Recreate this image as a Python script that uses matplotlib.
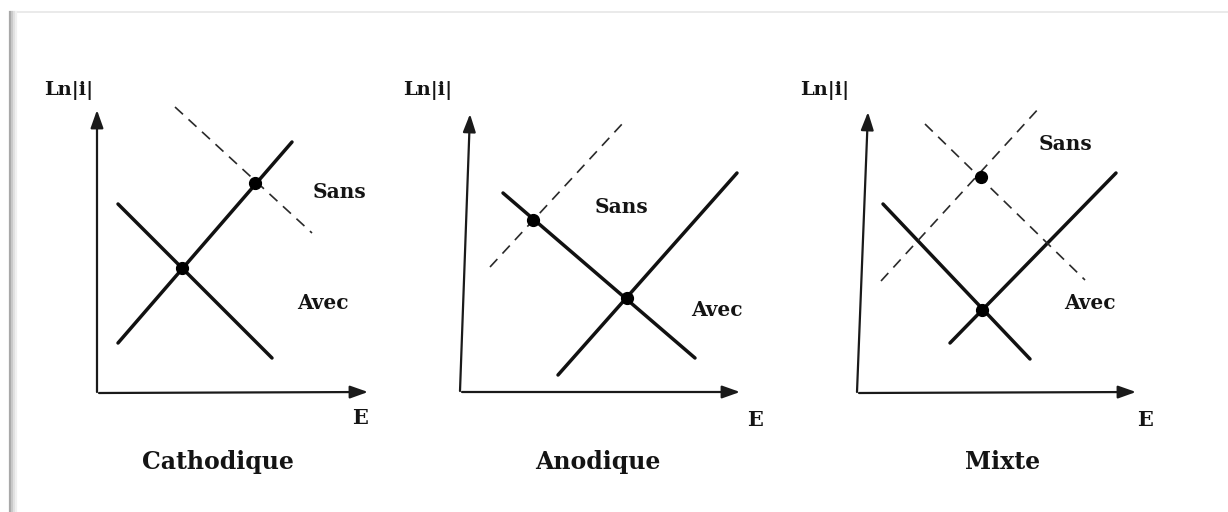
import matplotlib

matplotlib.use("Agg")
import matplotlib.pyplot as plt


WIDTH = 1228
HEIGHT = 512
FONT = "DejaVu Serif"

# panel titles and labels
TITLES = ["Cathodique", "Anodique", "Mixte"]
Y_LABEL = "Ln|i|"
X_LABEL = "E"

# axis frames per panel: (y-axis bottom, y-axis tip, x-axis tip), image pixels
AXIS_ORIGIN = [(97, 392), (460, 391), (857, 392)]
AXIS_YTIP = [(97, 110), (470, 114), (868, 112)]
AXIS_XTIP = [(368, 392), (740, 392), (1136, 392)]

# solid lines ("Avec")
SOLID = [
    [((118, 343), (292, 142)), ((118, 204), (272, 358))],
    [((558, 375), (737, 173)), ((503, 193), (695, 358))],
    [((950, 343), (1116, 173)), ((883, 204), (1030, 359))],
]

# dashed lines ("Sans")
DASHED = [
    [((175, 107), (312, 233))],
    [((490, 267), (623, 123))],
    [((925, 124), (1085, 280)), ((881, 281), (1040, 107))],
]

# corrosion points
DOTS = [
    [(182, 268), (255, 183)],
    [(627, 298), (533, 220)],
    [(982, 310), (981, 177)],
]

# label positions (centres)
YLABEL_POS = [(69, 90), (428, 90), (825, 90)]
XLABEL_POS = [(360, 418), (755, 420), (1145, 420)]
TITLE_POS = [(218, 462), (598, 462), (1003, 462)]
SANS_POS = [(340, 192), (622, 207), (1066, 144)]
AVEC_POS = [(323, 303), (717, 310), (1090, 303)]


def draw_arrow(ax, start, tip):
    ax.annotate(
        "",
        xy=tip,
        xytext=start,
        arrowprops=dict(
            arrowstyle="-|>,head_length=0.9,head_width=0.32",
            lw=1.6,
            color="#1a1a1a",
            mutation_scale=12,
            shrinkA=0,
            shrinkB=0,
        ),
    )


def label(ax, pos, text, size):
    ax.text(
        pos[0],
        pos[1],
        text,
        ha="center",
        va="center",
        fontsize=size,
        fontweight="bold",
        family=FONT,
        color="#141414",
    )


def main():
    fig = plt.figure(figsize=(WIDTH / 100, HEIGHT / 100), dpi=100)
    ax = fig.add_axes([0, 0, 1, 1])
    ax.set_xlim(0, WIDTH)
    ax.set_ylim(HEIGHT, 0)
    ax.axis("off")

    # page frame with a faint shadow on the left
    ax.plot([11, WIDTH], [12, 12], color="#e6e6e6", lw=1.2)
    for off, shade in [(0, "#a8a8a8"), (2, "#c8c8c8"), (4, "#e0e0e0"), (6, "#f0f0f0")]:
        ax.plot([10 + off, 10 + off], [12, HEIGHT], color=shade, lw=1.6)

    for i in range(3):
        ox, oy = AXIS_ORIGIN[i]
        draw_arrow(ax, (ox, oy), AXIS_YTIP[i])
        draw_arrow(ax, (ox + 2, oy + 1), AXIS_XTIP[i])

        for (x0, y0), (x1, y1) in SOLID[i]:
            ax.plot([x0, x1], [y0, y1], color="#111111", lw=2.5, solid_capstyle="round")
        for (x0, y0), (x1, y1) in DASHED[i]:
            ax.plot([x0, x1], [y0, y1], color="#2a2a2a", lw=1.2, dashes=(6.5, 4.5))

        xs = [p[0] for p in DOTS[i]]
        ys = [p[1] for p in DOTS[i]]
        ax.plot(xs, ys, "o", color="#000000", markersize=8.5, linestyle="none")

        label(ax, YLABEL_POS[i], Y_LABEL, 14)
        label(ax, XLABEL_POS[i], X_LABEL, 15)
        label(ax, TITLE_POS[i], TITLES[i], 17)
        label(ax, SANS_POS[i], "Sans", 14.5)
        label(ax, AVEC_POS[i], "Avec", 14.5)

    fig.savefig("out.png", dpi=100)
    plt.close(fig)


if __name__ == "__main__":
    main()
